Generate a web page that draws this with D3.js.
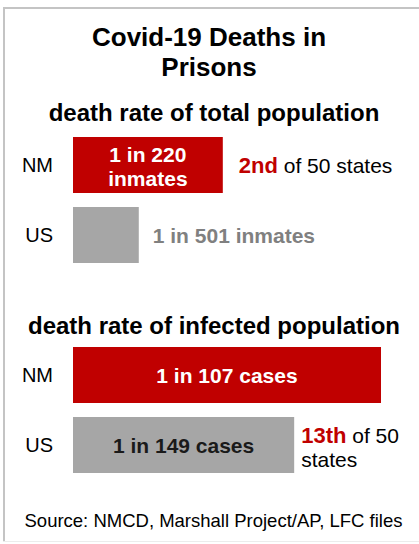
<!DOCTYPE html>
<html>
<head>
<meta charset="utf-8">
<script src="https://cdn.jsdelivr.net/npm/d3@7"></script>
<style>
  html, body { margin: 0; padding: 0; background: #fff; }
  svg { display: block; font-family: "Liberation Sans", Arial, Helvetica, sans-serif; }
</style>
</head>
<body>
<svg id="chart" width="419" height="544"></svg>
<script>
// ---- data ----
const titleLines = ["Covid-19 Deaths in", "Prisons"];
const categories = ["NM", "US"];
const totalSubtitle = "death rate of total population";
const totalOneIn = [220, 501];           // deaths: 1 in N inmates
const totalLabels = [["1 in 220", "inmates"], ["1 in 501 inmates"]];
const totalRank = ["2nd", " of 50 states"];
const infectedSubtitle = "death rate of infected population";
const infectedOneIn = [107, 149];        // deaths: 1 in N cases
const infectedLabels = ["1 in 107 cases", "1 in 149 cases"];
const infectedRank = ["13th", " of 50", "states"];
const source = "Source: NMCD, Marshall Project/AP, LFC files";

const RED = "#C00000", GRAY = "#A6A6A6", GRAYTEXT = "#808080";

const svg = d3.select("#chart");

// frame
svg.append("rect").attr("x", 3).attr("y", 7).attr("width", 2).attr("height", 534).attr("fill", "#c4c4c4");
svg.append("rect").attr("x", 3).attr("y", 7).attr("width", 416).attr("height", 2).attr("fill", "#c4c4c4");
svg.append("rect").attr("x", 3).attr("y", 541).attr("width", 416).attr("height", 1).attr("fill", "#ececec");

// shared rate scale
const x = d3.scaleLinear().domain([0, 1 / 107]).range([73, 381]);

// title
svg.append("g").selectAll("text").data(titleLines).join("text")
  .attr("x", 209).attr("y", (d, i) => 46 + i * 30)
  .attr("text-anchor", "middle").attr("font-size", 26).attr("font-weight", "bold")
  .attr("fill", "#000").text(d => d);

function subtitle(txt, y) {
  svg.append("text").attr("x", 214).attr("y", y).attr("text-anchor", "middle")
    .attr("font-size", 24).attr("font-weight", "bold").attr("fill", "#000").text(txt);
}

function catLabels(yScale) {
  svg.append("g").selectAll("text").data(categories).join("text")
    .attr("x", 53).attr("y", d => yScale(d) + yScale.bandwidth() / 2 + 7)
    .attr("text-anchor", "end").attr("font-size", 20).attr("fill", "#000").text(d => d);
}

// ---- panel 1 ----
subtitle(totalSubtitle, 121);
const y1 = d3.scaleBand().domain(categories).range([130, 270]).paddingInner(0.2).paddingOuter(0.1);
catLabels(y1);
svg.append("g").selectAll("rect").data(categories).join("rect")
  .attr("x", x(0)).attr("y", d => y1(d))
  .attr("width", (d, i) => x(1 / totalOneIn[i]) - x(0))
  .attr("height", y1.bandwidth())
  .attr("fill", (d, i) => i === 0 ? RED : GRAY);

// NM label inside bar (two lines)
svg.append("g").selectAll("text").data(totalLabels[0]).join("text")
  .attr("x", (x(0) + x(1 / totalOneIn[0])) / 2)
  .attr("y", (d, i) => y1("NM") + 25 + i * 24)
  .attr("text-anchor", "middle").attr("font-size", 21).attr("font-weight", "bold")
  .attr("fill", "#fff").text(d => d);
// US label outside bar
svg.append("text").attr("x", x(1 / totalOneIn[1]) + 14)
  .attr("y", y1("US") + y1.bandwidth() / 2 + 8)
  .attr("font-size", 21).attr("font-weight", "bold").attr("fill", GRAYTEXT)
  .text(totalLabels[1][0]);
// rank
const r1 = svg.append("text").attr("x", x(1 / totalOneIn[0]) + 16)
  .attr("y", y1("NM") + y1.bandwidth() / 2 + 8).attr("font-size", 21);
r1.append("tspan").attr("font-weight", "bold").attr("fill", RED).attr("font-size", 22).text(totalRank[0]);
r1.append("tspan").attr("fill", "#000").text(totalRank[1]);

// ---- panel 2 ----
subtitle(infectedSubtitle, 334);
const y2 = d3.scaleBand().domain(categories).range([340, 480]).paddingInner(0.2).paddingOuter(0.1);
catLabels(y2);
svg.append("g").selectAll("rect").data(categories).join("rect")
  .attr("x", x(0)).attr("y", d => y2(d))
  .attr("width", (d, i) => x(1 / infectedOneIn[i]) - x(0))
  .attr("height", y2.bandwidth())
  .attr("fill", (d, i) => i === 0 ? RED : GRAY);
svg.append("g").selectAll("text").data(categories).join("text")
  .attr("x", (d, i) => (x(0) + x(1 / infectedOneIn[i])) / 2)
  .attr("y", d => y2(d) + y2.bandwidth() / 2 + 8)
  .attr("text-anchor", "middle").attr("font-size", 21).attr("font-weight", "bold")
  .attr("fill", (d, i) => i === 0 ? "#fff" : "#1a1a1a")
  .text((d, i) => infectedLabels[i]);
const r2x = x(1 / infectedOneIn[1]) + 7;
const r2 = svg.append("text").attr("x", r2x).attr("y", 443).attr("font-size", 21);
r2.append("tspan").attr("font-weight", "bold").attr("fill", RED).attr("font-size", 22).text(infectedRank[0]);
r2.append("tspan").attr("fill", "#000").text(infectedRank[1]);
svg.append("text").attr("x", r2x).attr("y", 467).attr("font-size", 21).attr("fill", "#000").text(infectedRank[2]);

// source
svg.append("text").attr("x", 213.5).attr("y", 527).attr("text-anchor", "middle")
  .attr("font-size", 18.5).attr("fill", "#000").text(source);
</script>
</body>
</html>
